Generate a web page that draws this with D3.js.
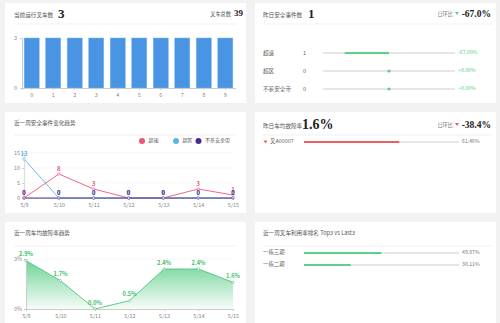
<!DOCTYPE html>
<html><head><meta charset="utf-8">
<script src="https://cdn.jsdelivr.net/npm/d3@7"></script>
<style>
html,body{margin:0;padding:0;background:#f2f2f2;overflow:hidden;}
svg{display:block;}
text{font-family:"Noto Sans CJK SC","Noto Sans",sans-serif;}
.num{font-family:"Liberation Serif","DejaVu Serif",serif;font-weight:bold;}
</style></head><body>
<svg id="c" width="500" height="323"></svg>
<script>
// ---- data ----
const runningCount = "3";
const totalCount = "39";
const barCategories = ["0","1","2","3","4","5","6","7","8","9"];
const barValues = [3,3,3,3,3,3,3,3,3,3];
const barTicks = [0,3];

const eventCount = "1";
const eventChange = "-67.0%";
const eventTypes = ["超速","超区","不系安全带"];
const eventValues = [1,0,0];
const eventChanges = [-67.00,0,0];
const eventChangeLabels = ["-67.00%","+0.00%","+0.00%"];

const days = ["5/9","5/10","5/11","5/12","5/13","5/14","5/15"];
const seriesNames = ["超速","超区","不系安全带"];
const speeding = [0,8,3,0,0,3,1];
const outOfZone = [13,0,0,0,0,0,0];
const noBelt = [0,0,0,0,0,0,0];
const trendTicks = [0,5,10,15];

const faultRate = "1.6%";
const faultChange = "-38.4%";
const faultVehicles = ["叉A00007"];
const faultVehicleRates = [61.46];

const weeklyFault = [2.9,1.7,0.0,0.5,2.4,2.4,1.6];
const faultTicks = [0,3];

const utilNames = ["一栋三期","一栋二期"];
const utilRates = [49.87,30.11];

// ---- drawing ----
const svg = d3.select("#c");
const green = "#5ccf88", red = "#f25b5f", pink = "#f0547c", blue = "#5cb3e6", purple = "#4a2b8c";
const titleCol = "#555", trackCol = "#e6e6e6", axisCol = "#ccc", tickText = "#888";

const panels = [[5,3,241,100],[255,3,241,100],[5,112,241,101],[255,112,241,101],[5,222,241,110],[255,222,241,110]];
svg.selectAll("rect.panel").data(panels).join("rect").attr("class","panel")
  .attr("x",d=>d[0]).attr("y",d=>d[1]).attr("width",d=>d[2]).attr("height",d=>d[3]).attr("fill","#fff");

function txt(x,y,s,opt={}){
  const t = svg.append("text").attr("x",x).attr("y",y).text(s)
    .attr("font-size",opt.size||5.6).attr("fill",opt.fill||titleCol)
    .attr("text-anchor",opt.anchor||"start");
  if(opt.cls) t.attr("class",opt.cls);
  if(opt.base) t.attr("dominant-baseline",opt.base);
  return t;
}
function divider(x1,x2,y){ svg.append("line").attr("x1",x1).attr("x2",x2).attr("y1",y).attr("y2",y).attr("stroke","#eee").attr("stroke-width",0.8); }
function tri(x,y,col){ svg.append("path").attr("d",`M${x-2},${y-1.5}L${x+2},${y-1.5}L${x},${y+1.5}Z`).attr("fill",col); }

// Panel 1
txt(14,17,"当前运行叉车数");
txt(58,17.5,runningCount,{cls:"num",size:13,fill:"#222"});
txt(231,15.5,"叉车总数",{anchor:"end",size:5.2});
txt(234,16,totalCount,{cls:"num",size:9,fill:"#222"});
divider(14,236,24);
{
  const x = d3.scaleBand().domain(barCategories).range([22,235]).paddingInner(0.3).paddingOuter(0.1);
  const y = d3.scaleLinear().domain([0,3]).range([88,38]);
  const g = svg.append("g");
  g.selectAll("rect").data(barValues).join("rect")
    .attr("x",(d,i)=>x(barCategories[i])).attr("y",d=>y(d)).attr("width",x.bandwidth()).attr("height",d=>y(0)-y(d))
    .attr("fill","#4a95e3").attr("stroke","#7ab3ee").attr("stroke-width",0.5);
  const ya = svg.append("g").attr("transform","translate(22,0)").call(d3.axisLeft(y).tickValues(barTicks).tickFormat(d3.format("d")).tickSize(2).tickPadding(3));
  const xa = svg.append("g").attr("transform","translate(0,88)").call(d3.axisBottom(x).tickSize(2).tickPadding(3));
  [ya,xa].forEach(a=>{a.selectAll("path,line").attr("stroke",axisCol);a.selectAll("text").attr("font-size",5.5).attr("fill",tickText);});
}

// Panel 2
txt(263,17,"昨日安全事件数");
txt(308,17.5,eventCount,{cls:"num",size:13,fill:"#222"});
txt(453,15.5,"日环比",{anchor:"end",size:5.2,fill:"#777"});
tri(457,13.5,green);
txt(491,16.5,eventChange,{cls:"num",size:9.5,fill:"#222",anchor:"end"});
divider(263,492,24);
{
  const rowY = d3.scalePoint().domain(eventTypes).range([53,89]);
  const xs = d3.scaleLinear().domain([-100,100]).range([323,455]);
  eventTypes.forEach((t,i)=>{
    const yy = rowY(t);
    txt(263,yy,t,{base:"middle",fill:"#666"});
    txt(303,yy,String(eventValues[i]),{base:"middle",fill:"#666"});
    svg.append("line").attr("x1",xs(-100)).attr("x2",xs(100)).attr("y1",yy).attr("y2",yy).attr("stroke",trackCol).attr("stroke-width",2);
    if(eventChanges[i]!==0){
      svg.append("line").attr("x1",xs(eventChanges[i])).attr("x2",xs(0)).attr("y1",yy).attr("y2",yy).attr("stroke",green).attr("stroke-width",2.2);
    } else {
      svg.append("circle").attr("cx",xs(0)).attr("cy",yy).attr("r",1.6).attr("fill",green);
    }
    txt(458,yy,eventChangeLabels[i],{base:"middle",fill:green,size:5.2});
  });
}

// Panel 3
txt(14,125,"近一周安全事件变化趋势");
divider(14,236,135);
{
  const colors = [pink,blue,purple];
  const lx = [142,176,198.5];
  seriesNames.forEach((n,i)=>{
    svg.append("circle").attr("cx",lx[i]).attr("cy",141).attr("r",3).attr("fill",colors[i]);
    txt(lx[i]+6.5,141,n,{base:"middle",fill:"#555",size:5});
  });
  const x = d3.scalePoint().domain(days).range([24,233]);
  const y = d3.scaleLinear().domain([0,15]).range([198,153]);
  const grid = svg.append("g");
  grid.selectAll("line").data(trendTicks.filter(t=>t>0)).join("line")
    .attr("x1",24).attr("x2",233).attr("y1",d=>y(d)).attr("y2",d=>y(d)).attr("stroke","#f0f0f0").attr("stroke-width",0.6);
  const ya = svg.append("g").attr("transform","translate(24,0)").call(d3.axisLeft(y).tickValues(trendTicks).tickSize(2).tickPadding(2));
  ya.select("path").attr("stroke","#ddd").attr("stroke-width",1.2);
  ya.selectAll("line").attr("stroke",axisCol);
  ya.selectAll("text").attr("font-size",5.5).attr("fill",tickText);
  const xa = svg.append("g").attr("transform","translate(0,198)").call(d3.axisBottom(x).tickSize(2).tickPadding(3));
  xa.selectAll("path,line").attr("stroke",axisCol);
  xa.selectAll("text").attr("font-size",5.5).attr("fill",tickText);
  const series = [speeding,outOfZone,noBelt];
  const line = d3.line().x((d,i)=>x(days[i])).y(d=>y(d));
  series.forEach((s,k)=>{
    svg.append("path").attr("d",line(s)).attr("fill","none").attr("stroke",colors[k]).attr("stroke-width",0.9);
  });
  series.forEach((s,k)=>{
    svg.append("g").selectAll("circle").data(s).join("circle")
      .attr("cx",(d,i)=>x(days[i])).attr("cy",d=>y(d)).attr("r",1.2).attr("fill","#fff").attr("stroke",colors[k]).attr("stroke-width",0.6);
    svg.append("g").selectAll("text").data(s).join("text")
      .attr("x",(d,i)=>x(days[i])).attr("y",d=>y(d)-3).attr("text-anchor","middle")
      .attr("font-size",5.8).attr("font-weight","bold").attr("fill",colors[k]).text(d=>d);
  });
}

// Panel 4
txt(263,128,"昨日车均故障率");
txt(302,128.5,faultRate,{cls:"num",size:14,fill:"#222"});
txt(453,126.5,"日环比",{anchor:"end",size:5.2,fill:"#777"});
tri(457,124.5,red);
txt(491,127.5,faultChange,{cls:"num",size:9.5,fill:"#222",anchor:"end"});
divider(263,492,135);
{
  const xs = d3.scaleLinear().domain([0,100]).range([304,459]);
  const rowY = d3.scalePoint().domain(faultVehicles).range([142,142]);
  faultVehicles.forEach((v,i)=>{
    const yy = rowY(v);
    tri(265.5,yy,red);
    txt(270,yy,v,{base:"middle",fill:"#666",size:5.4});
    svg.append("line").attr("x1",xs(0)).attr("x2",xs(100)).attr("y1",yy).attr("y2",yy).attr("stroke",trackCol).attr("stroke-width",2);
    svg.append("line").attr("x1",xs(0)).attr("x2",xs(faultVehicleRates[i])).attr("y1",yy).attr("y2",yy).attr("stroke",red).attr("stroke-width",2.2);
    txt(462,yy,faultVehicleRates[i].toFixed(2)+"%",{base:"middle",fill:"#777",size:5.2});
  });
}

// Panel 5
txt(14,235,"近一周车均故障率趋势");
divider(14,236,246);
{
  const x = d3.scalePoint().domain(days).range([26,233]);
  const y = d3.scaleLinear().domain([0,3]).range([309,259]);
  svg.append("line").attr("x1",26).attr("x2",233).attr("y1",y(3)).attr("y2",y(3)).attr("stroke","#f0f0f0").attr("stroke-width",0.6);
  const defs = svg.append("defs");
  const gr = defs.append("linearGradient").attr("id","ga").attr("x1",0).attr("x2",0).attr("y1",0).attr("y2",1);
  gr.append("stop").attr("offset","0%").attr("stop-color","#56cc85").attr("stop-opacity",0.85);
  gr.append("stop").attr("offset","100%").attr("stop-color","#56cc85").attr("stop-opacity",0.05);
  const area = d3.area().x((d,i)=>x(days[i])).y0(y(0)).y1(d=>y(d));
  const line = d3.line().x((d,i)=>x(days[i])).y(d=>y(d));
  svg.append("path").attr("d",area(weeklyFault)).attr("fill","url(#ga)");
  svg.append("path").attr("d",line(weeklyFault)).attr("fill","none").attr("stroke","#4cc47c").attr("stroke-width",0.9);
  const ya = svg.append("g").attr("transform","translate(26,0)").call(d3.axisLeft(y).tickValues(faultTicks).tickFormat(d=>d+"%").tickSize(2).tickPadding(2));
  ya.selectAll("path,line").attr("stroke",axisCol);
  ya.selectAll("text").attr("font-size",5.5).attr("fill",tickText);
  const xa = svg.append("g").attr("transform","translate(0,309)").call(d3.axisBottom(x).tickSize(2).tickPadding(3));
  xa.selectAll("path,line").attr("stroke",axisCol);
  xa.selectAll("text").attr("font-size",5.5).attr("fill",tickText);
  svg.append("g").selectAll("circle").data(weeklyFault).join("circle")
    .attr("cx",(d,i)=>x(days[i])).attr("cy",d=>y(d)).attr("r",1.2).attr("fill","#fff").attr("stroke","#4cc47c").attr("stroke-width",0.6);
  svg.append("g").selectAll("text").data(weeklyFault).join("text")
    .attr("x",(d,i)=>x(days[i])).attr("y",d=>y(d)-4.5).attr("text-anchor","middle")
    .attr("font-size",5.6).attr("font-weight","bold").attr("fill","#3fbf70").text(d=>d.toFixed(1)+"%");
}

// Panel 6
txt(263,235,"近一周叉车利用率排名 Top3 vs Last3");
divider(263,492,246);
{
  const xs = d3.scaleLinear().domain([0,100]).range([304,459]);
  const rowY = d3.scalePoint().domain(utilNames).range([253,265]);
  utilNames.forEach((n,i)=>{
    const yy = rowY(n);
    txt(263,yy,n,{base:"middle",fill:"#666",size:5.4});
    svg.append("line").attr("x1",xs(0)).attr("x2",xs(100)).attr("y1",yy).attr("y2",yy).attr("stroke",trackCol).attr("stroke-width",2);
    svg.append("line").attr("x1",xs(0)).attr("x2",xs(utilRates[i])).attr("y1",yy).attr("y2",yy).attr("stroke",green).attr("stroke-width",2.2);
    txt(462,yy,utilRates[i].toFixed(2)+"%",{base:"middle",fill:"#777",size:5.2});
  });
}
</script></body></html>
